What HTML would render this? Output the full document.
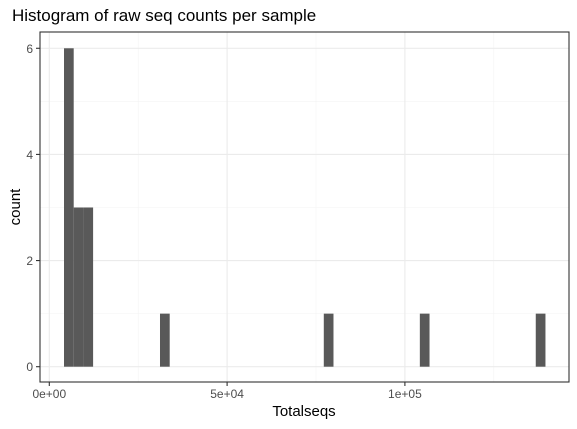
<!DOCTYPE html>
<html><head><meta charset="utf-8"><style>
body{margin:0;background:#fff;}
svg{display:block;font-family:"Liberation Sans",sans-serif;}
</style></head><body>
<svg id="chart" width="577" height="429">
<text x="12" y="21" font-size="17" fill="#000">Histogram of raw seq counts per sample</text>
<g id="grid"></g>
<g id="bars"></g>
<rect x="40" y="32" width="529" height="350" fill="none" stroke="#333" stroke-width="1.1"/>
<g id="axes"></g>
<text x="304" y="416" font-size="15" text-anchor="middle" fill="#000">Totalseqs</text>
<text transform="translate(20,207) rotate(-90)" font-size="15" text-anchor="middle" fill="#000">count</text>
</svg>
<script>
const binStarts=[4134,6862,9590,31130,77190,104200,136800];
const binCounts=[6,3,3,1,1,1,1];
const binWidth=2728;
const xTicks=[0,50000,100000];
const xTickLabels=["0e+00","5e+04","1e+05"];
const yTicks=[0,2,4,6];
const ns="http://www.w3.org/2000/svg";
function X(v){return 49.3+v/50000*177.8;}
function Y(v){return 366.7-v*53.07;}
function mk(t,a,p){const e=document.createElementNS(ns,t);for(const k in a)e.setAttribute(k,a[k]);p.appendChild(e);return e;}
const grid=document.getElementById('grid'),bars=document.getElementById('bars'),axes=document.getElementById('axes');
mk('rect',{x:40,y:32,width:529,height:350,fill:'#fff'},grid);
for(let v=25000;v<150000;v+=50000){const l=mk('line',{x1:X(v),x2:X(v),y1:32,y2:382,stroke:'#f3f3f3','stroke-width':0.6},grid);

}
for(let v=1;v<7;v+=2){const l=mk('line',{x1:40,x2:569,y1:Y(v),y2:Y(v),stroke:'#f3f3f3','stroke-width':0.6},grid);

}
xTicks.forEach((v,i)=>{const l=mk('line',{x1:X(v),x2:X(v),y1:32,y2:382,stroke:'#ebebeb','stroke-width':1.1},grid);


const t=mk('line',{x1:X(v),x2:X(v),y1:382,y2:386,stroke:'#333','stroke-width':1.1},axes);


const tx=mk('text',{x:X(v),y:398,'font-size':12,'text-anchor':'middle',fill:'#4d4d4d'},axes);
tx.textContent=xTickLabels[i];

});
yTicks.forEach(v=>{const l=mk('line',{x1:40,x2:569,y1:Y(v),y2:Y(v),stroke:'#ebebeb','stroke-width':1.1},grid);


const t=mk('line',{x1:36,x2:40,y1:Y(v),y2:Y(v),stroke:'#333','stroke-width':1.1},axes);


const tx=mk('text',{x:33,y:Y(v)+4.5,'font-size':12,'text-anchor':'end',fill:'#4d4d4d'},axes);
tx.textContent=v;

});
binStarts.forEach((s,i)=>{const r=mk('rect',{x:X(s),y:Y(binCounts[i]),width:X(s+binWidth)-X(s),height:Y(0)-Y(binCounts[i]),fill:'#595959'},bars);

});
</script>
</body></html>
